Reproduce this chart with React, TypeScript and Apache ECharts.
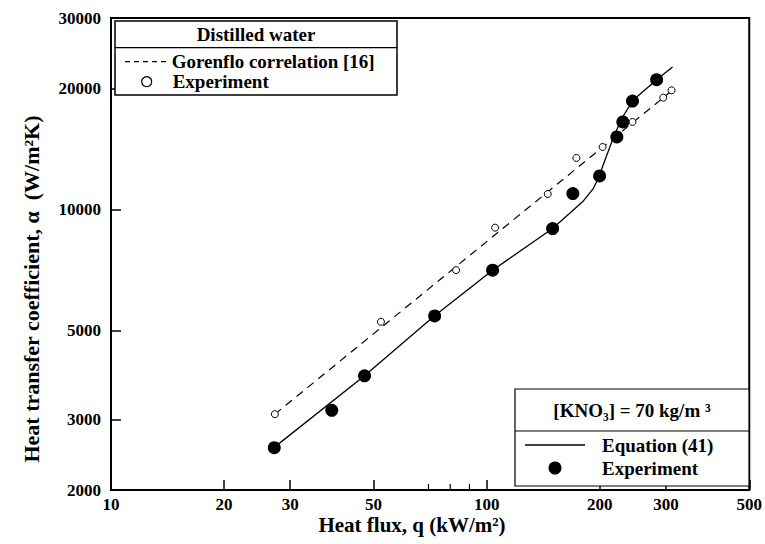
import React, { useEffect, useRef } from 'react';
import * as echarts from 'echarts';

// Axis tick values
const xTickValues = [10, 20, 30, 50, 100, 200, 300, 500];
const xMinorTickValues = [70, 80, 90];
const yTickValues = [2000, 3000, 5000, 10000, 20000, 30000];

// Distilled water — experiment (open circles)
const waterQ = [27.3, 52.3, 82.9, 105.3, 145.4, 173.3, 203.5, 244.4, 295.2, 310.6];
const waterAlpha = [3090, 5250, 7060, 9010, 10930, 13440, 14310, 16520, 18990, 19810];

// Gorenflo correlation [16] (dashed line)
const gorenfloQ = [27.3, 316];
const gorenfloAlpha = [3090, 20000];

// [KNO3] = 70 kg/m3 — experiment (filled circles)
const kno3Q = [27.2, 38.7, 47.3, 72.7, 103.7, 149.8, 169.6, 199.8, 222.1, 230.4, 244.4, 283.4];
const kno3Alpha = [2550, 3160, 3850, 5430, 7060, 8960, 10960, 12120, 15160, 16520, 18630, 21060];

// Equation (41) (solid line)
const eqQ = [27.2, 47.3, 72.7, 103.7, 149.8, 180.0, 192.0, 198.5, 206.4, 218.1, 229.0, 238.0, 250.0, 283.4, 312.4];
const eqAlpha = [2554, 3851, 5433, 7058, 8964, 10450, 11250, 12000, 13260, 15214, 16870, 17900, 19000, 21060, 22640];

const FONT = '"Liberation Serif", "Times New Roman", Times, "DejaVu Serif", serif';

export default function App() {
  const ref = useRef<HTMLDivElement>(null);

  useEffect(() => {
    const chart = echarts.init(ref.current!, null, { renderer: 'svg' });
    const pair = (xs: number[], ys: number[]) => xs.map((x, i) => [x, ys[i]]);
    const labelStyle = { fontFamily: FONT, fontWeight: 'bold' as const, fontSize: 17, color: '#000' };
    const txt = (x: number, y: number, text: string, align: string, size = 19, extra: any = {}) => ({
      type: 'text',
      x,
      y,
      z: 20,
      ...extra,
      style: {
        text,
        fontFamily: FONT,
        fontWeight: 'bold',
        fontSize: size,
        fill: '#000',
        align,
        verticalAlign: 'middle',
      },
    });
    const yMin = yTickValues[0];

    chart.setOption({
      animation: false,
      backgroundColor: '#fff',
      grid: {
        left: 111,
        right: 12,
        top: 18,
        bottom: 54,
        show: true,
        borderColor: '#000',
        borderWidth: 2,
        backgroundColor: 'transparent',
      },
      xAxis: {
        type: 'log',
        logBase: 10,
        min: 10,
        max: 500,
        axisLine: { show: true, lineStyle: { color: '#000', width: 2 } },
        axisTick: {
          show: true,
          inside: true,
          length: 10,
          lineStyle: { color: '#000', width: 1.5 },
          customValues: xTickValues,
        },
        axisLabel: {
          ...labelStyle,
          margin: 6,
          customValues: xTickValues,
          formatter: (v: number) => String(Math.round(v)),
        },
        splitLine: { show: false },
        minorTick: { show: false },
        minorSplitLine: { show: false },
      },
      yAxis: {
        type: 'log',
        logBase: 10,
        min: 2000,
        max: 30000,
        axisLine: { show: true, lineStyle: { color: '#000', width: 2 } },
        axisTick: {
          show: true,
          inside: true,
          length: 10,
          lineStyle: { color: '#000', width: 1.5 },
          customValues: yTickValues,
        },
        axisLabel: {
          ...labelStyle,
          margin: 10,
          customValues: yTickValues,
          formatter: (v: number) => String(Math.round(v)),
        },
        splitLine: { show: false },
        minorTick: { show: false },
        minorSplitLine: { show: false },
      },
      series: [
        {
          name: 'minor ticks',
          type: 'custom',
          data: xMinorTickValues.map((v) => [v, yMin]),
          silent: true,
          z: 5,
          renderItem: (params: any, api: any) => {
            const p = api.coord([api.value(0), api.value(1)]);
            return {
              type: 'line',
              shape: { x1: p[0], y1: p[1], x2: p[0], y2: p[1] - 6 },
              style: { stroke: '#000', lineWidth: 1.2 },
            };
          },
        },
        {
          name: 'Gorenflo correlation [16]',
          type: 'line',
          data: pair(gorenfloQ, gorenfloAlpha),
          symbol: 'none',
          lineStyle: { color: '#000', width: 1.2, type: [8, 6] },
          z: 2,
        },
        {
          name: 'Equation (41)',
          type: 'line',
          data: pair(eqQ, eqAlpha),
          symbol: 'none',
          smooth: false,
          lineStyle: { color: '#000', width: 1.3 },
          z: 2,
        },
        {
          name: 'Experiment (water)',
          type: 'scatter',
          data: pair(waterQ, waterAlpha),
          symbol: 'circle',
          symbolSize: 7,
          itemStyle: { color: '#fff', borderColor: '#000', borderWidth: 1, opacity: 1 },
          z: 3,
        },
        {
          name: 'Experiment (KNO3)',
          type: 'scatter',
          data: pair(kno3Q, kno3Alpha),
          symbol: 'circle',
          symbolSize: 13,
          itemStyle: { color: '#000', opacity: 1 },
          z: 4,
        },
      ],
      graphic: [
        // Legend 1
        {
          type: 'rect',
          z: 10,
          shape: { x: 115, y: 21, width: 282, height: 74 },
          style: { fill: '#fff', stroke: '#000', lineWidth: 1.5 },
        },
        {
          type: 'line',
          z: 11,
          shape: { x1: 115, y1: 47.7, x2: 397, y2: 47.7 },
          style: { stroke: '#000', lineWidth: 1.2 },
        },
        txt(256, 34.5, 'Distilled water', 'center'),
        {
          type: 'line',
          z: 11,
          shape: { x1: 125, y1: 61.7, x2: 167, y2: 61.7 },
          style: { stroke: '#000', lineWidth: 1.2, lineDash: [5, 4] },
        },
        txt(171.7, 61.7, 'Gorenflo correlation [16]', 'left'),
        {
          type: 'circle',
          z: 11,
          shape: { cx: 146.7, cy: 81.7, r: 5 },
          style: { fill: '#fff', stroke: '#000', lineWidth: 1.2 },
        },
        txt(172.7, 81.7, 'Experiment', 'left'),
        // Legend 2
        {
          type: 'rect',
          z: 10,
          shape: { x: 515, y: 389, width: 234, height: 97 },
          style: { fill: '#fff', stroke: '#000', lineWidth: 1.2 },
        },
        {
          type: 'line',
          z: 11,
          shape: { x1: 515, y1: 431, x2: 749, y2: 431 },
          style: { stroke: '#000', lineWidth: 1.2 },
        },
        txt(632, 410.7, '[KNO\u2083] = 70 kg/m \u00B3', 'center'),
        {
          type: 'line',
          z: 11,
          shape: { x1: 525, y1: 445, x2: 585, y2: 445 },
          style: { stroke: '#000', lineWidth: 1.3 },
        },
        txt(602, 445, 'Equation (41)', 'left'),
        {
          type: 'circle',
          z: 11,
          shape: { cx: 555, cy: 468, r: 6.5 },
          style: { fill: '#000' },
        },
        txt(602, 468, 'Experiment', 'left'),
        // Axis titles
        txt(412, 525, 'Heat flux, q (kW/m\u00B2)', 'center', 21),
        txt(31, 289, 'Heat transfer coefficient, \u03B1  (W/m\u00B2K)', 'center', 22, { rotation: Math.PI / 2 }),
      ],
    });

    return () => chart.dispose();
  }, []);

  return (
    <div
      ref={ref}
      style={{ position: 'fixed', left: 0, top: 0, width: 765, height: 544, background: '#fff' }}
    />
  );
}
